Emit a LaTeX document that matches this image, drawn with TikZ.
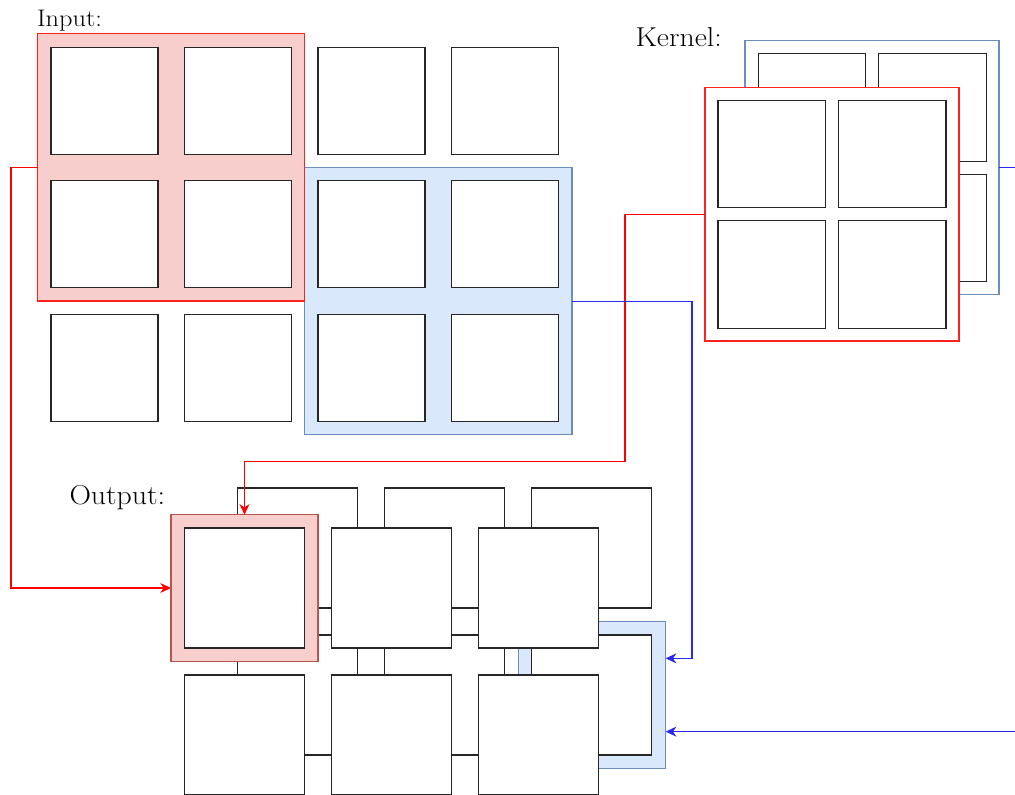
\documentclass[tikz,border=0pt]{standalone}
\usepackage{graphicx}
\usetikzlibrary{arrows.meta,fit,calc}
\definecolor{rfill}{HTML}{F8CECC}
\definecolor{rdark}{HTML}{B85450}
\definecolor{bfill}{HTML}{DAE8FC}
\definecolor{bdark}{HTML}{6C8EBF}
\definecolor{rbright}{HTML}{FF2020}
\definecolor{bline}{HTML}{2828F0}
\begin{document}
\begin{tikzpicture}[x=0.75pt,y=-0.75pt,
  box/.style={draw=black!85, fill=white, line width=0.85pt, inner sep=0pt, outer sep=0pt},
  hlinred/.style={draw=rbright, fill=rfill, line width=0.85pt, inner sep=0pt, outer sep=0pt},
  hloutred/.style={draw=rdark, fill=rfill, line width=0.85pt, inner sep=0pt, outer sep=0pt},
  hlblue/.style={draw=bdark, fill=bfill, line width=0.85pt, inner sep=0pt, outer sep=0pt},
  kback/.style={draw=bdark, fill=white, line width=0.85pt, inner sep=0pt, outer sep=0pt},
  kfront/.style={draw=rbright, fill=white, line width=0.85pt, inner sep=0pt, outer sep=0pt},
  redcon/.style={draw=red, line width=0.8pt, -{Stealth[length=8pt,width=7.5pt,inset=2.5pt]}},
  bluecon/.style={draw=bline, line width=0.8pt, -{Stealth[length=8pt,width=7.5pt,inset=2.5pt]}},
  lbl/.style={anchor=base west, inner sep=0pt, outer sep=0pt}
]
\useasboundingbox (0,0) rectangle (1015,795);

% ---------- Input ----------
\node[lbl, font=\fontsize{18}{20}\selectfont] (inlbl) at (37,26.7) {\scalebox{1.1}[1]{Input:}};
\node[hlblue, fit={(304.5,167.3) (572,434.8)}] (inBlue) {};
\node[hlinred, fit={(37.5,33.8) (304.5,301)}] (inRed) {};
\foreach \i in {0,...,3} {
  \foreach \j in {0,1,2} {
    \pgfmathsetmacro\xx{51+133.5*\i}
    \pgfmathsetmacro\yy{47.3+133.5*\j}
    \node[box, fit={(\xx,\yy) (\xx+107,\yy+107)}] (in\i\j) {};
  }
}

% ---------- Kernel ----------
\node[lbl, font=\fontsize{20.5}{22}\selectfont] (klbl) at (635.5,47) {\scalebox{1.09}[1]{Kernel:}};
\node[kback, fit={(745,40.7) (999,294.3)}] (kBack) {};
\foreach \i in {0,1} {
  \foreach \j in {0,1} {
    \pgfmathsetmacro\xx{758.3+120.5*\i}
    \pgfmathsetmacro\yy{53.7+120.5*\j}
    \node[box, fit={(\xx,\yy) (\xx+107.5,\yy+107.5)}] (kb\i\j) {};
  }
}
\node[kfront, fit={(705,87.3) (959,341)}] (kFront) {};
\foreach \i in {0,1} {
  \foreach \j in {0,1} {
    \pgfmathsetmacro\xx{718+120.5*\i}
    \pgfmathsetmacro\yy{100.3+120.5*\j}
    \node[box, fit={(\xx,\yy) (\xx+107.5,\yy+107.5)}] (kf\i\j) {};
  }
}

% ---------- Output ----------
\node[lbl, font=\fontsize{20.5}{22}\selectfont] (outlbl) at (69.5,504.3) {\scalebox{1.09}[1]{Output:}};
\node[hlblue, fit={(518.3,621.7) (665.7,768.3)}] (outBlue) {};
\foreach \i in {0,1,2} {
  \foreach \j in {0,1} {
    \pgfmathsetmacro\xx{237.7+147*\i}
    \pgfmathsetmacro\yy{488+147*\j}
    \node[box, fit={(\xx,\yy) (\xx+120,\yy+120)}] (ob\i\j) {};
  }
}
\node[hloutred, fit={(171,514.7) (318,661.3)}] (outRed) {};
\foreach \i in {0,1,2} {
  \foreach \j in {0,1} {
    \pgfmathsetmacro\xx{184.3+147*\i}
    \pgfmathsetmacro\yy{528+147*\j}
    \node[box, fit={(\xx,\yy) (\xx+120,\yy+120)}] (of\i\j) {};
  }
}

% ---------- Connectors ----------
\coordinate (outBlueA) at ($(outBlue.north east)!0.25!(outBlue.south east)$);
\coordinate (outBlueB) at ($(outBlue.north east)!0.75!(outBlue.south east)$);
\draw[redcon] (inRed.west) -- ++(-26.5,0) |- (outRed.west);
\draw[redcon] (kFront.west) -- ++(-80,0) -- ++(0,247) -| (outRed.north);
\draw[bluecon] (inBlue.east) -- ++(120,0) |- (outBlueA);
\draw[bluecon] (kBack.east) -- ++(45,0) |- (outBlueB);
\end{tikzpicture}
\end{document}
